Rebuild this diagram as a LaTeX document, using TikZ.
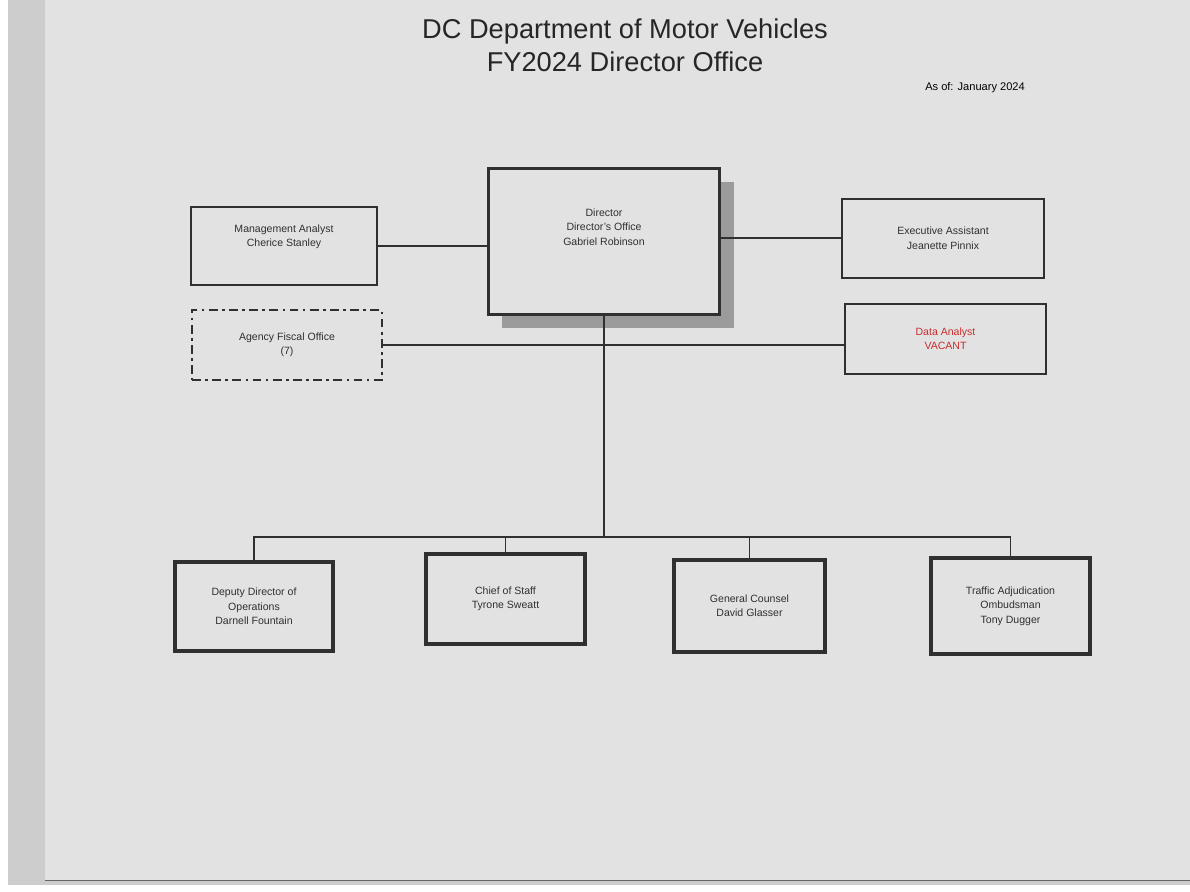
\documentclass[tikz,border=0pt]{standalone}
\usepackage{fontspec}
\setmainfont{Liberation Sans}
\definecolor{ink}{RGB}{48,48,48}
\definecolor{paper}{RGB}{226,226,226}
\definecolor{edge}{RGB}{205,205,205}
\definecolor{shadowgray}{RGB}{155,155,155}
\definecolor{vacant}{RGB}{200,45,45}
\tikzset{orgchart/.style={x=0.02cm,y=-0.02cm,font=\fontsize{6}{8.2}\selectfont,text=ink},
  unit/.style={draw=ink,line width=1.2pt,fill=paper,align=center,inner sep=0pt},
  lowunit/.style={unit,line width=1.9pt},
  link/.style={draw=ink,line width=1pt}}

\begin{document}
\begin{tikzpicture}[orgchart]
    \useasboundingbox (0,0) rectangle (1190,892);
    \fill[white] (0,0) rectangle (1190,892);
    \fill[edge] (8,0) rectangle (1190,885);
    \fill[paper] (45,0) rectangle (1190,880);
    \draw[black!60,line width=1pt] (45,880.5) -- (1190,880.5);
    % heading
    \node[font=\fontsize{15.5}{18.7}\selectfont,align=center,text=black!85] (title) at (625,45)
        {DC Department of Motor Vehicles\\FY2024 Director Office};
    \node[font=\fontsize{6.3}{7.5}\selectfont,text=black] (asof) at (975,88) {As of: January 2024};
    % director with shadow
    \node[unit,draw=none,fill=shadowgray,minimum width=4.64cm,minimum height=2.94cm] (dirshadow) at (618,255) {};
    \node[unit,line width=1.7pt,minimum width=4.64cm,minimum height=2.94cm] (dir) at (604,241.5) {};
    \node[align=center] (dirtxt) at (604,227) {Director\\Director's Office\\Gabriel Robinson};
    % side units
    \node[unit,minimum width=3.72cm,minimum height=1.56cm] (mgmt) at (284,246)
        {Management Analyst\\Cherice Stanley\\[1.2ex]};
    \node[unit,dash pattern=on 5pt off 2.5pt on 1.5pt off 2.5pt,minimum width=3.8cm,minimum height=1.4cm] (fiscal) at (287,345)
        {Agency Fiscal Office\\(7)};
    \node[unit,minimum width=4.04cm,minimum height=1.58cm] (exec) at (943,238.3)
        {Executive Assistant\\Jeanette Pinnix};
    \node[unit,text=vacant,minimum width=4.02cm,minimum height=1.4cm] (data) at (945.5,339)
        {Data Analyst\\VACANT};
    % reporting units
    \node[lowunit,minimum width=3.16cm,minimum height=1.78cm] (dep) at (254,606.5)
        {Deputy Director of\\Operations\\Darnell Fountain};
    \node[lowunit,minimum width=3.18cm,minimum height=1.8cm] (cos) at (505.5,599)
        {Chief of Staff\\Tyrone Sweatt};
    \node[lowunit,minimum width=3.02cm,minimum height=1.84cm] (gc) at (749.5,606)
        {General Counsel\\David Glasser};
    \node[lowunit,minimum width=3.18cm,minimum height=1.92cm] (tao) at (1010.5,606)
        {Traffic Adjudication\\Ombudsman\\Tony Dugger};
    % connectors
    \draw[link] (mgmt.east) -- (mgmt.east -| dir.west);
    \draw[link] (exec.west) -- (exec.west -| dir.east);
    \draw[link] (fiscal.east) -- (fiscal.east -| data.west);
    \coordinate (bus) at (dir.south |- 0,537);
    \draw[link] (dir.south) -- (bus);
    \foreach \u in {dep,cos,gc,tao}
        \draw[link] (bus) -| (\u.north);
\end{tikzpicture}
\end{document}
